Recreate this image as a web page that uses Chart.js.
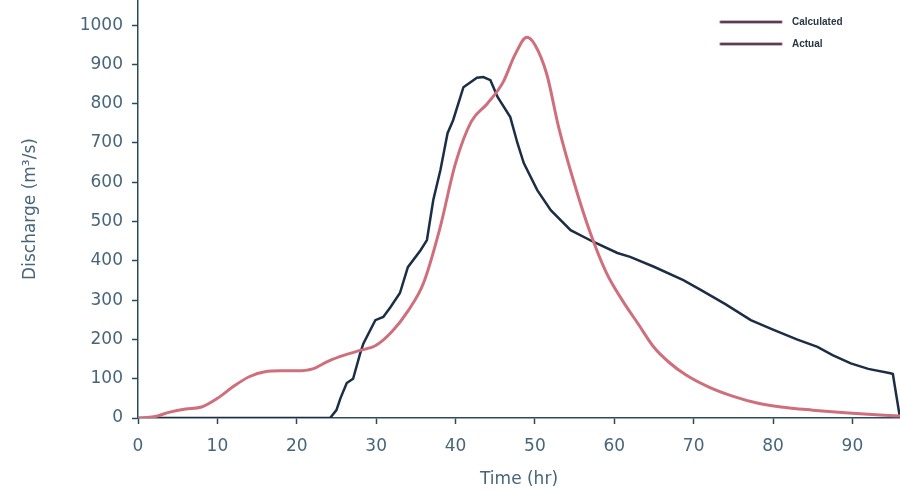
<!DOCTYPE html>
<html>
<head>
<meta charset="utf-8">
<script src="https://cdn.jsdelivr.net/npm/chart.js@4/dist/chart.umd.min.js"></script>
<style>
html, body { margin: 0; padding: 0; background: #fff; }
#wrap { width: 900px; height: 495px; }
</style>
</head>
<body>
<div id="wrap"><canvas id="hydroChart"></canvas></div>
<script>
// calculated hydrograph (hr, m3/s)
const calcTime = [0, 2, 4, 6, 8, 10, 12, 14, 16, 18, 20, 22, 24, 26, 28, 30, 32, 34, 36, 38, 40, 42, 44, 46, 47.5, 49, 50, 51.5, 53, 55, 57, 59, 61, 63, 65, 67, 69, 72, 75, 78, 81, 85, 90, 94, 96];
const calcFlow = [0, 3, 15, 23, 28, 50, 80, 105, 118, 120, 120, 125, 145, 160, 172, 185, 220, 272, 345, 480, 648, 755, 800, 855, 925, 969, 950, 875, 740, 595, 470, 370, 300, 240, 180, 140, 110, 78, 55, 38, 28, 20, 12, 7, 5];

// observed hydrograph
const actualTime = [0, 24.2, 25, 25.5, 26.3, 27.1, 28, 28.4, 29.9, 30.9, 31.8, 33, 34, 35.6, 36.4, 37.2, 38.1, 39, 39.7, 41, 42.7, 43.5, 44.4, 45.3, 46.9, 47.8, 48.6, 50.3, 52, 54.5, 57.4, 60.4, 62, 65, 68.7, 71, 74, 77.2, 80, 83, 85.6, 87.5, 89.8, 92, 94.8, 95.1, 96];
const actualFlow = [0, 0, 20, 50, 89, 100, 165, 190, 249, 257, 282, 318, 384, 427, 453, 555, 631, 725, 758, 842, 866, 868, 860, 817, 766, 700, 649, 580, 529, 478, 448, 420, 410, 385, 351, 325, 290, 249, 225, 200, 181, 160, 139, 125, 114, 112, 0];

const xTicks = [0, 10, 20, 30, 40, 50, 60, 70, 80, 90];
const yTicks = [0, 100, 200, 300, 400, 500, 600, 700, 800, 900, 1000];

const axisColor = '#2c4a5e';
const textColor = '#48667a';

const toPoints = (xs, ys) => xs.map((x, i) => ({ x: x, y: ys[i] }));

// small legend in the top right corner
const cornerLegend = {
    id: 'cornerLegend',
    afterDraw(chart) {
        const ctx = chart.ctx;
        chart.data.datasets.forEach((ds, i) => {
            const y = 22 + i * 22;
            ctx.save();
            ctx.lineCap = 'round';
            ctx.strokeStyle = '#e8a6ae';
            ctx.lineWidth = 4;
            ctx.beginPath(); ctx.moveTo(721, y); ctx.lineTo(781, y); ctx.stroke();
            ctx.strokeStyle = '#3a4a62';
            ctx.lineWidth = 2.2;
            ctx.beginPath(); ctx.moveTo(721, y); ctx.lineTo(781, y); ctx.stroke();
            ctx.fillStyle = '#2a3646';
            ctx.font = 'bold 10px "Liberation Sans Narrow", "Liberation Sans", sans-serif';
            ctx.textBaseline = 'middle';
            ctx.fillText(ds.label, 792, y);
            ctx.restore();
        });
    }
};

new Chart('hydroChart', {
    type: 'line',
    data: {
        datasets: [
            {
                label: 'Calculated',
                data: toPoints(calcTime, calcFlow),
                borderColor: '#cf6f7c',
                borderWidth: 3,
                pointRadius: 0,
                cubicInterpolationMode: 'monotone',
                fill: false
            },
            {
                label: 'Actual',
                data: toPoints(actualTime, actualFlow),
                borderColor: '#1c2e45',
                borderWidth: 2.5,
                pointRadius: 0,
                tension: 0,
                fill: false
            }
        ]
    },
    options: {
        responsive: true,
        maintainAspectRatio: false,
        animation: false,
        layout: { padding: 0 },
        plugins: {
            legend: { display: false },
            tooltip: { enabled: false }
        },
        scales: {
            x: {
                type: 'linear',
                min: 0,
                max: 96,
                afterBuildTicks: s => { s.ticks = xTicks.map(v => ({ value: v })); },
                afterFit: s => { s.height = 77; s.paddingLeft = 0; s.paddingRight = 0; },
                ticks: {
                    color: textColor,
                    font: { family: 'DejaVu Sans', size: 17 },
                    padding: 12,
                    maxRotation: 0,
                    autoSkip: false,
                    callback: v => String(v)
                },
                grid: { drawOnChartArea: false, tickLength: 6, color: axisColor, tickWidth: 1.5 },
                border: { color: axisColor, width: 1.5 },
                title: {
                    display: true,
                    text: 'Time (hr)',
                    color: textColor,
                    font: { family: 'DejaVu Sans', size: 17 },
                    padding: { bottom: 5 }
                }
            },
            y: {
                min: 0,
                max: 1064,
                afterBuildTicks: s => { s.ticks = yTicks.map(v => ({ value: v })); },
                afterFit: s => { s.width = 138; s.paddingTop = 0; s.paddingBottom = 0; },
                ticks: {
                    color: textColor,
                    font: { family: 'DejaVu Sans', size: 17 },
                    padding: 9,
                    callback: v => String(v)
                },
                grid: { drawOnChartArea: false, tickLength: 6, color: axisColor, tickWidth: 1.5 },
                border: { color: axisColor, width: 1.5 },
                title: {
                    display: true,
                    text: 'Discharge (m³/s)',
                    color: textColor,
                    font: { family: 'DejaVu Sans', size: 17 },
                    padding: { top: 20 }
                }
            }
        }
    },
    plugins: [cornerLegend]
});
</script>
</body>
</html>
